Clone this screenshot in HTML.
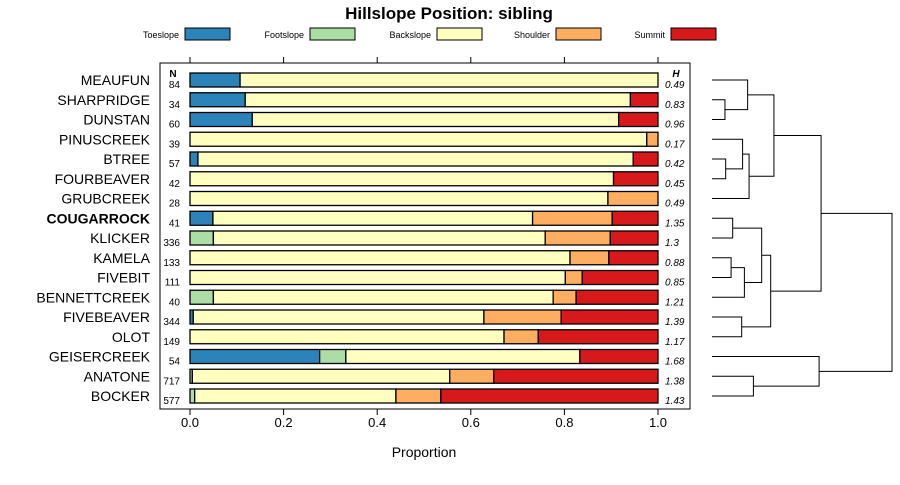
<!DOCTYPE html>
<html><head><meta charset="utf-8"><style>
body{margin:0;background:#fff;}
svg text{font-family:"Liberation Sans",sans-serif;}
</style></head><body>
<svg id="chart" width="900" height="480" xmlns="http://www.w3.org/2000/svg">
<text x="449" y="19" text-anchor="middle" font-size="17" font-weight="bold">Hillslope Position: sibling</text>
<g id="legend"></g>
<rect x="160" y="63" width="530" height="346" fill="none" stroke="#000"/>
<g id="axes"></g><g id="bars"></g><g id="dendro"></g>
<text x="424" y="457" text-anchor="middle" font-size="14">Proportion</text>
<text x="173" y="77" text-anchor="middle" font-size="10" font-weight="bold">N</text>
<text x="676" y="77" text-anchor="middle" font-size="10" font-weight="bold" font-style="italic">H</text>
</svg>
<script>
const series=["Toeslope","Footslope","Backslope","Shoulder","Summit"];
const colors=["#2b83ba","#abdda4","#ffffbf","#fdae61","#d7191c"];
const names=["MEAUFUN","SHARPRIDGE","DUNSTAN","PINUSCREEK","BTREE","FOURBEAVER","GRUBCREEK","COUGARROCK","KLICKER","KAMELA","FIVEBIT","BENNETTCREEK","FIVEBEAVER","OLOT","GEISERCREEK","ANATONE","BOCKER"];
const nvals=[84,34,60,39,57,42,28,41,336,133,111,40,344,149,54,717,577];
const hvals=["0.49","0.83","0.96","0.17","0.42","0.45","0.49","1.35","1.3","0.88","0.85","1.21","1.39","1.17","1.68","1.38","1.43"];
const toeslope=[0.107,0.118,0.133,0,0.017,0,0,0.049,0,0,0,0,0.007,0,0.277,0,0];
const footslope=[0,0,0,0,0,0,0,0,0.05,0,0,0.05,0,0,0.056,0.005,0.01];
const backslope=[0.893,0.823,0.783,0.976,0.930,0.905,0.893,0.683,0.709,0.812,0.802,0.726,0.621,0.671,0.5,0.55,0.43];
const shoulder=[0,0,0,0.024,0,0,0.107,0.17,0.139,0.083,0.036,0.049,0.165,0.073,0,0.094,0.096];
const summit=[0,0.059,0.084,0,0.053,0.095,0,0.098,0.102,0.105,0.162,0.175,0.207,0.256,0.167,0.351,0.464];
const xTicks=[0,0.2,0.4,0.6,0.8,1.0];
const xTickLabels=["0.0","0.2","0.4","0.6","0.8","1.0"];
// dendrogram merges: [left, right, height]; leaves are row indices, nodes "n<k>"
const merges=[[1,2,0.072],[0,"n0",0.198],[4,5,0.076],[3,"n2",0.17],["n3",6,0.206],["n1","n4",0.344],[7,8,0.115],[9,10,0.106],["n7",11,0.18],["n6","n8",0.276],[12,13,0.165],["n9","n10",0.326],["n5","n11",0.606],[15,16,0.23],[14,"n13",0.595],["n12","n14",1.0]];

const NS="http://www.w3.org/2000/svg";
const svg=document.getElementById('chart');
function mk(tag,attrs,parent){const e=document.createElementNS(NS,tag);for(const k in attrs)e.setAttribute(k,attrs[k]);parent.appendChild(e);return e;}
const xs=v=>190+v*468;
const ys=i=>80+i*19.75;
const dx=h=>712+h*180;

const leg=document.getElementById('legend');
const legX=[185,310,437,556,671];
series.forEach((s,i)=>{
  const t=mk('text',{x:legX[i]-6,y:38,'text-anchor':'end','font-size':9},leg);t.textContent=s;
  
  
  const r=mk('rect',{x:legX[i],y:28,width:45,height:12,fill:colors[i],stroke:'#000'},leg);
  
  
});

const ax=document.getElementById('axes');
xTicks.forEach((v,i)=>{
  const a=mk('line',{x1:xs(v),x2:xs(v),y1:409,y2:415,stroke:'#000'},ax);
  
  
  const b=mk('line',{x1:xs(v),x2:xs(v),y1:57,y2:63,stroke:'#000'},ax);
  
  
  const t=mk('text',{x:xs(v),y:427,'text-anchor':'middle','font-size':13},ax);t.textContent=xTickLabels[i];
  
  
});

const bars=document.getElementById('bars');
const allSeries=[toeslope,footslope,backslope,shoulder,summit];
names.forEach((n,i)=>{
  const y=ys(i);
  const lab=mk('text',{x:150,y:y+5,'text-anchor':'end','font-size':14},bars);lab.textContent=n;
  if(n==="COUGARROCK")lab.setAttribute('font-weight','bold');
  
  
  const nt=mk('text',{x:180,y:y+8,'text-anchor':'end','font-size':10},bars);nt.textContent=nvals[i];
  
  
  const ht=mk('text',{x:665,y:y+8,'font-size':10,'font-style':'italic'},bars);ht.textContent=hvals[i];
  
  
  let cum=0;
  allSeries.forEach((arr,k)=>{
    const v=arr[i];if(v<=0)return;
    const r=mk('rect',{x:xs(cum),y:y-7,width:xs(cum+v)-xs(cum),height:14,fill:colors[k],stroke:'#000','stroke-width':1.3},bars);
    
    
    cum+=v;
  });
});

const dg=document.getElementById('dendro');
const nodes=[];
function pos(id){return typeof id==='number'?{x:712,y:ys(id)}:nodes[+id.slice(1)];}
merges.forEach(m=>{
  const a=pos(m[0]),b=pos(m[1]),hx=dx(m[2]);
  const p=mk('path',{d:`M${a.x},${a.y}H${hx}V${b.y}H${b.x}`,fill:'none',stroke:'#000','stroke-width':1},dg);
  
  
  nodes.push({x:hx,y:(a.y+b.y)/2});
});
</script>
</body></html>
